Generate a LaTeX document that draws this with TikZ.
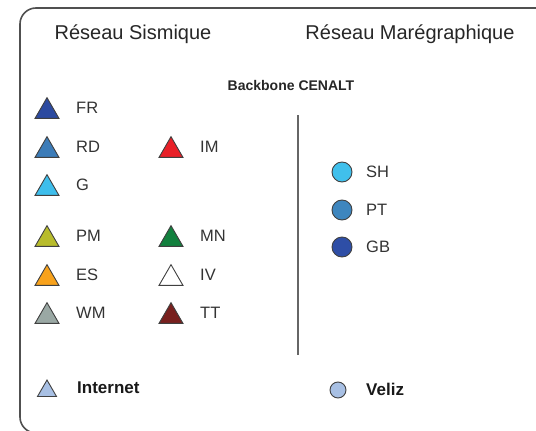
\documentclass[tikz,border=0pt]{standalone}
\usepackage{fontspec}
\setmainfont{Liberation Sans}
\usetikzlibrary{shapes.geometric}

\definecolor{frblue}{RGB}{44,74,160}
\definecolor{rdblue}{RGB}{60,124,184}
\definecolor{gblue}{RGB}{62,190,236}
\definecolor{imred}{RGB}{232,32,40}
\definecolor{pmolive}{RGB}{184,188,44}
\definecolor{mngreen}{RGB}{18,128,62}
\definecolor{esorange}{RGB}{248,162,28}
\definecolor{wmgrey}{RGB}{154,168,164}
\definecolor{ttred}{RGB}{120,32,30}
\definecolor{shblue}{RGB}{64,192,236}
\definecolor{ptblue}{RGB}{62,134,190}
\definecolor{gbblue}{RGB}{46,78,166}
\definecolor{netblue}{RGB}{168,192,228}
\definecolor{cadre}{RGB}{80,80,80}

\tikzset{
	station/.style={regular polygon, regular polygon sides=3, draw=black!75, line width=0.9pt, minimum size=27.7pt, inner sep=0pt},
	maregraphe/.style={circle, draw=black!75, line width=0.9pt, minimum size=20pt, inner sep=0pt},
	lbl/.style={anchor=west, inner sep=0pt, text=black!80, font=\fontsize{16.5}{18}\selectfont},
	legende/.style={lbl, text=black!90, font=\bfseries\fontsize{17}{19}\selectfont},
	titre/.style={anchor=base, inner sep=0pt, text=black!85, font=\fontsize{20}{24}\selectfont},
}

\begin{document}
	\begin{tikzpicture}[x=1pt, y=-1pt]
		\useasboundingbox (0,0) rectangle (536,431);
		\clip (0,0) rectangle (536,431);
		\draw[cadre, line width=1.6pt, rounded corners=16pt] (20,8) rectangle (580,433);
		
		\node[titre] (sismique) at (133,39) {Réseau Sismique};
		\node[titre] (maregraphique) at (410,39) {Réseau Marégraphique};
		\node[inner sep=0pt, text=black!85, font=\bfseries\fontsize{14}{16}\selectfont] (backbone) at (291,85) {Backbone CENALT};
		
		% separation
		\coordinate (haut) at (298,115);
		\coordinate (bas) at (298,355);
		\draw[black!60, line width=1.4pt] (haut) -- (bas);
		
		\foreach \nom/\y/\couleur in {FR/108/frblue, RD/147/rdblue, G/185/gblue, PM/236/pmolive, ES/275/esorange, WM/313/wmgrey}
		{
			\node[station, fill=\couleur] (s\nom) at (47,\y+3.5) {};
			\node[lbl] (l\nom) at (76,\y) {\nom};
		}
		\foreach \nom/\y/\couleur in {IM/147/imred, MN/236/mngreen, IV/275/white, TT/313/ttred}
		{
			\node[station, fill=\couleur] (s\nom) at (171,\y+3.5) {};
			\node[lbl] (l\nom) at (200,\y) {\nom};
		}
		\foreach \nom/\y/\couleur in {SH/172/shblue, PT/210/ptblue, GB/247/gbblue}
		{
			\node[maregraphe, fill=\couleur] (m\nom) at (342,\y) {};
			\node[lbl] (l\nom) at (366,\y) {\nom};
		}
		
		\node[station, fill=netblue, minimum size=22pt] (internet) at (47,391) {};
		\node[legende] (linternet) at (77,388) {Internet};
		\node[maregraphe, fill=netblue, minimum size=16pt] (veliz) at (338,390) {};
		\node[legende] (lveliz) at (366,389) {Veliz};
	\end{tikzpicture}
\end{document}
